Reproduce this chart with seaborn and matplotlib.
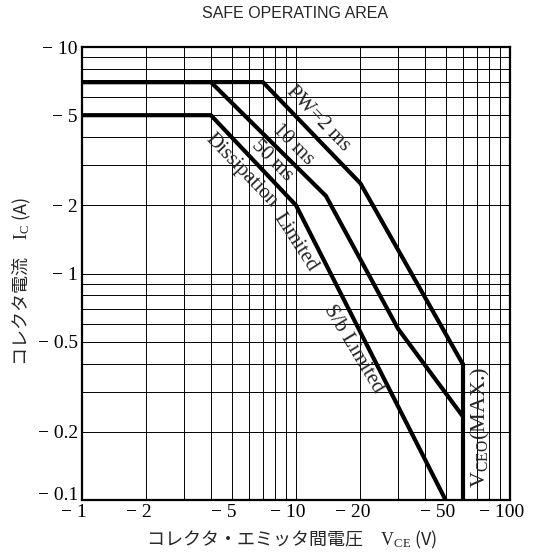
import pandas as pd
import seaborn as sns
import matplotlib.pyplot as plt
import matplotlib.transforms as mtransforms
from matplotlib.ticker import LogLocator, NullFormatter

# break points of the SOA curves (V_CE in V, I_C in A)
pw2_v = [1, 7, 20, 60]
pw2_i = [7, 7, 2.5, 0.4]
pw10_v = [1, 4, 13.8, 30, 60]
pw10_i = [7, 7, 2.2, 0.57, 0.235]
dc_v = [1, 4, 10, 50]
dc_i = [5, 5, 2, 0.1]
vceo_v = [60, 60]
vceo_i = [0.1, 0.4]

x_ticks = [1, 2, 5, 10, 20, 50, 100]
x_labels = ['− 1', '− 2', '− 5', '− 10', '− 20', '− 50', '− 100']
y_ticks = [0.1, 0.2, 0.5, 1, 2, 5, 10]
y_labels = ['− 0.1', '− 0.2', '− 0.5', '− 1', '− 2', '− 5', '− 10']

sns.set_theme(style='white')
plt.rcParams['font.family'] = ['Liberation Serif', 'DejaVu Serif']
plt.rcParams['mathtext.fontset'] = 'custom'
plt.rcParams['mathtext.rm'] = 'Liberation Serif'

# one long table, one unit per curve
parts = []
for name, v, i in [('pw2', pw2_v, pw2_i), ('pw10', pw10_v, pw10_i),
                   ('dc', dc_v, dc_i), ('vceo', vceo_v, vceo_i)]:
    parts.append(pd.DataFrame({'curve': name, 'V': v, 'I': i}))
df = pd.concat(parts, ignore_index=True)

fig = plt.figure(figsize=(5.55, 5.6), dpi=100)
ax = fig.add_axes([82 / 555, 60 / 560, 428 / 555, 453 / 560])

sns.lineplot(data=df, x='V', y='I', units='curve', estimator=None, sort=False,
             color='black', lw=3, ax=ax, legend=False)

ax.set_xscale('log')
ax.set_yscale('log')
ax.set_xlim(1, 100)
ax.set_ylim(0.1, 10)
ax.set_xticks(x_ticks, x_labels)
ax.set_yticks(y_ticks, y_labels)
for a in (ax.xaxis, ax.yaxis):
    a.set_minor_locator(LogLocator(base=10, subs=range(2, 10)))
    a.set_minor_formatter(NullFormatter())
ax.tick_params(which='both', length=0, labelsize=14, colors='black')
ax.tick_params(axis='x', pad=3)
ax.tick_params(axis='y', pad=3)
ax.grid(which='both', color='black', lw=0.7)
ax.set_axisbelow(True)
for s in ax.spines.values():
    s.set_color('black')
    s.set_linewidth(1.6)
ax.set_xlabel('')
ax.set_ylabel('')

# digits sit on the grid line, the minus hangs to the left
shift = mtransforms.ScaledTranslation(-8 / 100, 0, fig.dpi_scale_trans)
for lbl in ax.get_xticklabels():
    lbl.set_transform(lbl.get_transform() + shift)
lift = mtransforms.ScaledTranslation(0, 7 / 100, fig.dpi_scale_trans)
ylbl0 = ax.get_yticklabels()[0]
ylbl0.set_transform(ylbl0.get_transform() + lift)

# curve labels: anchored on the curve, pushed off it sideways (pixels)
lab = dict(ha='center', va='center', rotation_mode='anchor', fontsize=15,
           textcoords='offset pixels')
ax.annotate('PW=2 ms', (11.35, 4.36), xytext=(10, 10), rotation=-46, **lab)
ax.annotate('10 ms', (8.71, 3.38), xytext=(9.5, 9.5), rotation=-45, **lab)
ax.annotate('50 ms', (8.51, 3.45), xytext=(-9, -9), rotation=-45, **lab)
ax.annotate('Dissipation', (6.27, 3.19), xytext=(-11.5, -11), rotation=-46, **lab)
ax.annotate('Limited', (11.7, 1.48), xytext=(-15, -7.5), rotation=-57, **lab)
ax.annotate('S/b Limited', (21.2, 0.493), xytext=(-12.5, -6.3), rotation=-59, **lab)
ax.annotate(r'V$_\mathrm{CEO}$(MAX.)', (60, 0.21), xytext=(18, 0), rotation=90,
            ha='center', va='center', rotation_mode='anchor', fontsize=16,
            textcoords='offset pixels')

fig.text(295 / 555, 1 - 14 / 560, 'SAFE OPERATING AREA', ha='center', va='center',
         family='Liberation Sans', fontsize=11.5)
fig.text(22 / 555, 1 - 281 / 560, 'コレクタ電流　$\\mathrm{I_C}$ (A)', rotation=90,
         ha='center', va='center', family='Noto Sans CJK JP', fontsize=13)
fig.text(292 / 555, 1 - 540 / 560, 'コレクタ・エミッタ間電圧　$\\mathrm{V_{CE}}$ (V)',
         ha='center', va='center', family='Noto Sans CJK JP', fontsize=13)

fig.savefig('out.png', dpi=100)
